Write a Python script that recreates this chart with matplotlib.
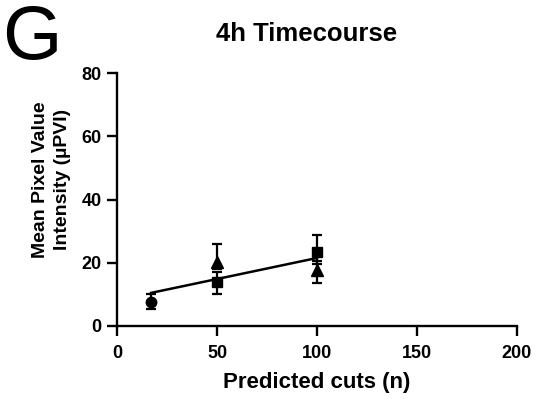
import numpy as np
import matplotlib
matplotlib.use("Agg")
import matplotlib.pyplot as plt

plt.rcParams['font.family'] = ['Liberation Sans', 'DejaVu Sans']

# mean pixel value per group
circle_x = [17]
circle_y = [7.7]
circle_err = [[2.3], [2.4]]

tri_x = [50, 100]
tri_y = [20.3, 17.7]
tri_err = [[2.4, 4.0], [5.7, 3.0]]

sq_x = [50, 100]
sq_y = [14.0, 23.5]
sq_err = [[4.0, 4.0], [3.1, 5.3]]

xticks = [0, 50, 100, 150, 200]
yticks = [0, 20, 40, 60, 80]

fig = plt.figure(figsize=(5.36, 3.99), dpi=100)
ax = fig.add_axes([117 / 536, 1 - 326 / 399, 400 / 536, 253 / 399])

style = dict(color='black', ecolor='black', elinewidth=1.6, capsize=3.8,
             capthick=1.6, linestyle='none', zorder=3)
ax.errorbar(circle_x, circle_y, yerr=circle_err, marker='o', markersize=7.5, **style)
ax.errorbar(tri_x, tri_y, yerr=tri_err, marker='^', markersize=8, **style)
ax.errorbar(sq_x, sq_y, yerr=sq_err, marker='s', markersize=7.5, **style)

# linear fit through all points
all_x = np.array(circle_x + tri_x + sq_x, dtype=float)
all_y = np.array(circle_y + tri_y + sq_y, dtype=float)
slope, intercept = np.polyfit(all_x, all_y, 1)
fit_x = np.array([all_x.min(), all_x.max()])
ax.plot(fit_x, slope * fit_x + intercept, color='black', linewidth=1.8, zorder=2)

ax.set_xlim(0, 200)
ax.set_ylim(0, 80)
ax.set_xticks(xticks)
ax.set_yticks(yticks)
ax.spines['top'].set_visible(False)
ax.spines['right'].set_visible(False)
for s in ['left', 'bottom']:
    ax.spines[s].set_linewidth(1.7)
ax.tick_params(width=1.7, length=7, labelsize=13, pad=4)
ax.tick_params(axis='x', pad=6.5)
for lab in ax.get_xticklabels() + ax.get_yticklabels():
    lab.set_fontweight('bold')

ax.set_xlabel('Predicted cuts (n)', fontsize=16, fontweight='bold')
ax.xaxis.set_label_coords(0.5, -0.18)
ax.set_ylabel('Mean Pixel Value\nIntensity (µPVI)', fontsize=14,
              fontweight='bold', linespacing=1.35)
ax.yaxis.set_label_coords(-0.115, 0.58)

fig.text(307 / 536, 1 - 41 / 399, '4h Timecourse', fontsize=18.5,
         fontweight='bold', ha='center', va='baseline')
fig.text(0.004, 0.99, 'G', fontsize=55, va='top', ha='left')

fig.savefig('out.png', dpi=100, facecolor='white')
